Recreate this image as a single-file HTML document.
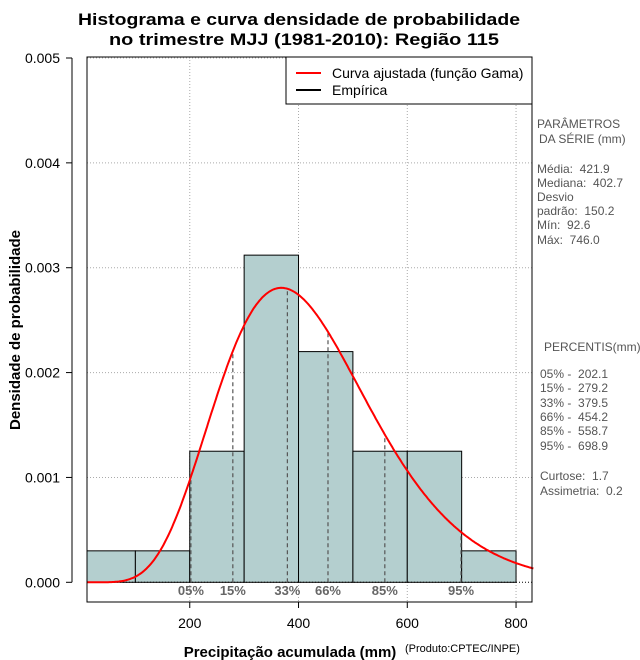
<!DOCTYPE html>
<html><head><meta charset="utf-8"><style>
body{margin:0;background:#fff}
svg{display:block;font-family:"Liberation Sans",sans-serif}
.sp text{white-space:pre}
</style></head><body>
<svg id="c" width="640" height="660" xmlns="http://www.w3.org/2000/svg">
<text x="299" y="25" text-anchor="middle" font-size="17" font-weight="bold" textLength="442" lengthAdjust="spacingAndGlyphs">Histograma e curva densidade de probabilidade</text>
<text x="304" y="45" text-anchor="middle" font-size="17" font-weight="bold" textLength="390" lengthAdjust="spacingAndGlyphs">no trimestre MJJ (1981-2010): Região 115</text>
<g id="grid"></g><g id="bars"></g><g id="pct"></g><g id="curve"></g><g id="axes"></g>
<rect x="87" y="57" width="445" height="545" fill="none" stroke="#000" stroke-width="1"/>
<g>
<rect x="286" y="57" width="246" height="47" fill="#fff" stroke="#000"/>
<line x1="296" y1="73" x2="321" y2="73" stroke="#f00" stroke-width="2"/>
<text x="332" y="78" font-size="14">Curva ajustada (função Gama)</text>
<line x1="296" y1="90" x2="321" y2="90" stroke="#000" stroke-width="2"/>
<text x="332" y="95" font-size="14">Empírica</text>
</g>
<g class="sp" font-size="12" fill="#555">
<text x="537" y="128">PARÂMETROS</text><text x="539" y="143">DA SÉRIE (mm)</text>
<text x="537" y="173">Média:  421.9</text><text x="537" y="187">Mediana:  402.7</text>
<text x="537" y="201">Desvio</text><text x="537" y="215">padrão:  150.2</text>
<text x="537" y="229">Mín:  92.6</text><text x="537" y="244">Máx:  746.0</text>
<text x="544" y="351">PERCENTIS(mm)</text>
<text x="540" y="378">05% -  202.1</text><text x="540" y="392">15% -  279.2</text>
<text x="540" y="407">33% -  379.5</text><text x="540" y="421">66% -  454.2</text>
<text x="540" y="435">85% -  558.7</text><text x="540" y="450">95% -  698.9</text>
<text x="540" y="480">Curtose:  1.7</text><text x="540" y="495">Assimetria:  0.2</text>
</g>
<text x="20" y="330" transform="rotate(-90 20 330)" text-anchor="middle" font-size="15" font-weight="bold">Densidade de probabilidade</text>
<text x="290" y="657" text-anchor="middle" font-size="15" font-weight="bold">Precipitação acumulada (mm)</text>
<text x="405" y="652" font-size="11">(Produto:CPTEC/INPE)</text>
</svg>
<script>
const binEdges=[0,100,200,300,400,500,600,700,800];
const binDensity=[0.0003,0.0003,0.00125,0.00312,0.0022,0.00125,0.00125,0.0003];
const pctLabels=["05%","15%","33%","66%","85%","95%"];
const pctValues=[202.1,279.2,379.5,454.2,558.7,698.9];
const meanVal=421.9, sdVal=150.2;
const xTicks=[200,400,600,800];
const yTicks=[0,0.001,0.002,0.003,0.004,0.005];
const yTickLabels=["0.000","0.001","0.002","0.003","0.004","0.005"];
const NS="http://www.w3.org/2000/svg";
const X=v=>81+v*0.5438, Y=v=>582.3-v*104860;
const PL=87,PR=532,PT=57,PB=602;
function mk(p,t,a){const e=document.createElementNS(NS,t);for(const k in a)e.setAttribute(k,a[k]);document.getElementById(p).appendChild(e);return e;}
yTicks.forEach((v,i)=>{if(i==0)return;const l=mk('grid','line',{x1:PL,x2:PR,y1:Y(v),y2:Y(v),stroke:'#aaa','stroke-dasharray':'1,2'});

});
xTicks.forEach(v=>{const l=mk('grid','line',{x1:X(v),x2:X(v),y1:PT,y2:PB,stroke:'#aaa','stroke-dasharray':'1,2'});

});
binDensity.forEach((d,i)=>{const x0=Math.max(PL,X(binEdges[i])),x1=X(binEdges[i+1]);
const r=mk('bars','rect',{x:x0,y:Y(d),width:x1-x0,height:Y(0)-Y(d),fill:'#b4cfcf',stroke:'#000','stroke-width':1});

});
const z=mk('bars','line',{x1:PL,x2:PR,y1:Y(0),y2:Y(0),stroke:'#000','stroke-dasharray':'1,2'});


const k=(meanVal/sdVal)**2, th=sdVal*sdVal/meanVal;
function lgamma(z){const g=7,c=[0.99999999999980993,676.5203681218851,-1259.1392167224028,771.32342877765313,-176.61502916214059,12.507343278686905,-0.13857109526572012,9.9843695780195716e-6,1.5056327351493116e-7];z-=1;let x=c[0];for(let i=1;i<9;i++)x+=c[i]/(z+i);const t=z+g+0.5;return 0.5*Math.log(2*Math.PI)+(z+0.5)*Math.log(t)-t+Math.log(x);}
const lg=lgamma(k);
const pdf=x=>x<=0?0:Math.exp((k-1)*Math.log(x)-x/th-lg-k*Math.log(th));
pctValues.forEach((v,i)=>{const l=mk('pct','line',{x1:X(v),x2:X(v),y1:Y(0),y2:Y(pdf(v)),stroke:'#555','stroke-width':1.2,'stroke-dasharray':'4,3'});


const t=mk('pct','text',{x:X(v),y:595,'text-anchor':'middle','font-size':13,'font-weight':'bold',fill:'#666'});
t.textContent=pctLabels[i];

});
let pts=[];for(let v=12;v<=832;v+=2)pts.push(X(v).toFixed(1)+','+Y(pdf(v)).toFixed(1));
const cv=mk('curve','polyline',{points:pts.join(' '),fill:'none',stroke:'#f00','stroke-width':2});


const ya=mk('axes','line',{x1:72,x2:72,y1:Y(0.005),y2:Y(0),stroke:'#000'});


yTicks.forEach((v,i)=>{mk('axes','line',{x1:66,x2:72,y1:Y(v),y2:Y(v),stroke:'#000'});
const t=mk('axes','text',{x:60,y:Y(v)+5,'text-anchor':'end','font-size':14});t.textContent=yTickLabels[i];

});
xTicks.forEach(v=>{mk('axes','line',{x1:X(v),x2:X(v),y1:PB,y2:PB+6,stroke:'#000'});
const t=mk('axes','text',{x:X(v),y:628,'text-anchor':'middle','font-size':14});t.textContent=v;

});
</script>
</body></html>
